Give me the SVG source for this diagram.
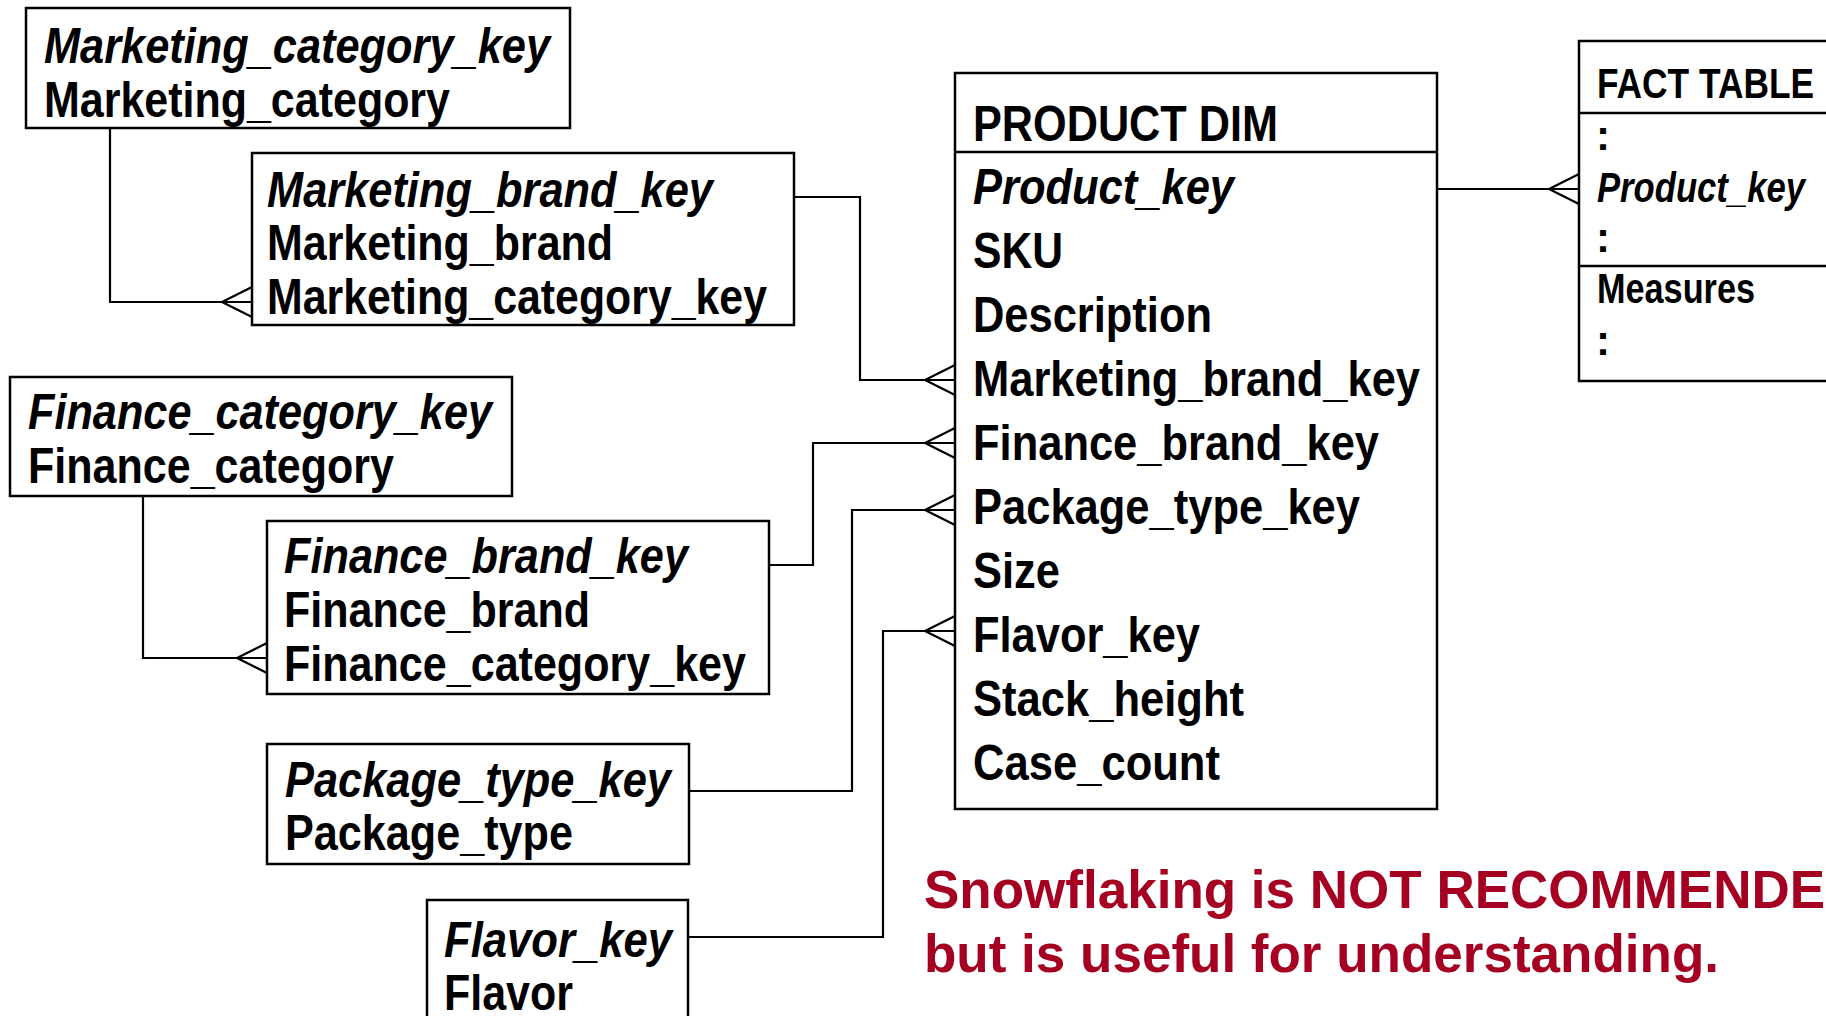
<svg xmlns="http://www.w3.org/2000/svg" width="1826" height="1016" viewBox="0 0 1826 1016">
  <style>
    .box { fill: #ffffff; stroke: #000000; stroke-width: 2.5; }
    .rule { stroke: #000000; stroke-width: 2.5; fill: none; }
    .wire { fill: none; stroke: #000000; stroke-width: 2.2; }
    .t { font-family: "Liberation Sans Narrow", "Liberation Sans", Arial, sans-serif; font-weight: bold; font-size: 50px; fill: #000000; }
    .k { font-style: italic; }
    .ft { font-size: 42px; }
    .note { font-family: "Liberation Sans", Arial, sans-serif; font-weight: bold; font-size: 53px; fill: #A50021; }
  </style>
  <defs>
    <!-- crow's foot ("many" end) placed at the end of each connector -->
    <marker id="crow" markerUnits="userSpaceOnUse" viewBox="-33 -18 36 36" markerWidth="36" markerHeight="36" refX="0" refY="0" orient="auto">
      <path d="M0,-15 L-30,0 L0,15" fill="none" stroke="#000000" stroke-width="2.2"/>
    </marker>
  </defs>

  <rect width="1826" height="1016" fill="#ffffff"/>

  <!-- relationships -->
  <g id="connectors">
    <path class="wire" d="M110,128 V302 H252" marker-end="url(#crow)"/>
    <path class="wire" d="M143,496 V658 H267" marker-end="url(#crow)"/>
    <path class="wire" d="M794,197 H860 V380 H955" marker-end="url(#crow)"/>
    <path class="wire" d="M769,565 H813 V443 H955" marker-end="url(#crow)"/>
    <path class="wire" d="M689,791 H852 V510 H955" marker-end="url(#crow)"/>
    <path class="wire" d="M688,937 H883 V631 H955" marker-end="url(#crow)"/>
    <path class="wire" d="M1437,189 H1579" marker-end="url(#crow)"/>
  </g>

  <g id="marketing-category">
    <rect class="box" x="26" y="8" width="544" height="120"/>
    <text class="t k" x="44" y="63" textLength="506" lengthAdjust="spacingAndGlyphs">Marketing_category_key</text>
    <text class="t" x="44" y="117" textLength="406" lengthAdjust="spacingAndGlyphs">Marketing_category</text>
  </g>

  <g id="marketing-brand">
    <rect class="box" x="252" y="153" width="542" height="172"/>
    <text class="t k" x="267" y="207" textLength="446" lengthAdjust="spacingAndGlyphs">Marketing_brand_key</text>
    <text class="t" x="267" y="260" textLength="346" lengthAdjust="spacingAndGlyphs">Marketing_brand</text>
    <text class="t" x="267" y="314" textLength="500" lengthAdjust="spacingAndGlyphs">Marketing_category_key</text>
  </g>

  <g id="finance-category">
    <rect class="box" x="10" y="377" width="502" height="119"/>
    <text class="t k" x="28" y="429" textLength="464" lengthAdjust="spacingAndGlyphs">Finance_category_key</text>
    <text class="t" x="28" y="483" textLength="366" lengthAdjust="spacingAndGlyphs">Finance_category</text>
  </g>

  <g id="finance-brand">
    <rect class="box" x="267" y="521" width="502" height="173"/>
    <text class="t k" x="284" y="573" textLength="404" lengthAdjust="spacingAndGlyphs">Finance_brand_key</text>
    <text class="t" x="284" y="627" textLength="306" lengthAdjust="spacingAndGlyphs">Finance_brand</text>
    <text class="t" x="284" y="681" textLength="462" lengthAdjust="spacingAndGlyphs">Finance_category_key</text>
  </g>

  <g id="package-type">
    <rect class="box" x="267" y="744" width="422" height="120"/>
    <text class="t k" x="285" y="797" textLength="386" lengthAdjust="spacingAndGlyphs">Package_type_key</text>
    <text class="t" x="285" y="850" textLength="288" lengthAdjust="spacingAndGlyphs">Package_type</text>
  </g>

  <!-- flavor table runs past the bottom edge: no bottom border -->
  <g id="flavor">
    <path class="box" d="M427,1016 V900 H688 V1016"/>
    <text class="t k" x="444" y="957" textLength="228" lengthAdjust="spacingAndGlyphs">Flavor_key</text>
    <text class="t" x="444" y="1010" textLength="129" lengthAdjust="spacingAndGlyphs">Flavor</text>
  </g>

  <g id="product-dim">
    <rect class="box" x="955" y="73" width="482" height="736"/>
    <line class="rule" x1="955" y1="152" x2="1437" y2="152"/>
    <text class="t" x="973" y="141" textLength="305" lengthAdjust="spacingAndGlyphs">PRODUCT DIM</text>
    <text class="t k" x="973" y="204" textLength="261" lengthAdjust="spacingAndGlyphs">Product_key</text>
    <text class="t" x="973" y="268" textLength="90" lengthAdjust="spacingAndGlyphs">SKU</text>
    <text class="t" x="973" y="332" textLength="239" lengthAdjust="spacingAndGlyphs">Description</text>
    <text class="t" x="973" y="396" textLength="447" lengthAdjust="spacingAndGlyphs">Marketing_brand_key</text>
    <text class="t" x="973" y="460" textLength="406" lengthAdjust="spacingAndGlyphs">Finance_brand_key</text>
    <text class="t" x="973" y="524" textLength="387" lengthAdjust="spacingAndGlyphs">Package_type_key</text>
    <text class="t" x="973" y="588" textLength="87" lengthAdjust="spacingAndGlyphs">Size</text>
    <text class="t" x="973" y="652" textLength="227" lengthAdjust="spacingAndGlyphs">Flavor_key</text>
    <text class="t" x="973" y="716" textLength="271" lengthAdjust="spacingAndGlyphs">Stack_height</text>
    <text class="t" x="973" y="780" textLength="247" lengthAdjust="spacingAndGlyphs">Case_count</text>
  </g>

  <!-- fact table runs past the right edge: no right border -->
  <g id="fact-table">
    <path class="box" d="M1826,41 H1579 V381 H1826"/>
    <line class="rule" x1="1579" y1="113" x2="1826" y2="113"/>
    <line class="rule" x1="1579" y1="266" x2="1826" y2="266"/>
    <text class="t ft" x="1597" y="98" textLength="217" lengthAdjust="spacingAndGlyphs">FACT TABLE</text>
    <text class="t ft" x="1596" y="150">:</text>
    <text class="t ft k" x="1597" y="202" textLength="208" lengthAdjust="spacingAndGlyphs">Product_key</text>
    <text class="t ft" x="1596" y="252">:</text>
    <text class="t ft" x="1597" y="303" textLength="158" lengthAdjust="spacingAndGlyphs">Measures</text>
    <text class="t ft" x="1596" y="355">:</text>
  </g>

  <g id="remark">
    <text class="note" x="924" y="908">Snowflaking is NOT RECOMMENDE</text>
    <text class="note" x="924" y="972">but is useful for understanding.</text>
  </g>
</svg>
